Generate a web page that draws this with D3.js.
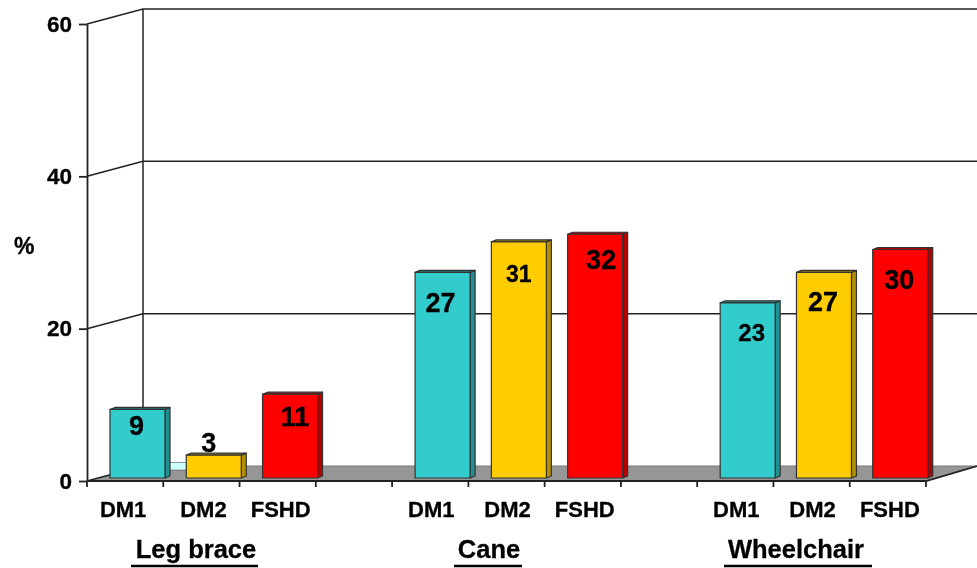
<!DOCTYPE html>
<html>
<head>
<meta charset="utf-8">
<style>
    html, body { margin: 0; padding: 0; background: #fff; }
    svg { display: block; filter: blur(0.5px); }
    text { font-family: "Liberation Sans", Arial, sans-serif; font-weight: bold; fill: #000; stroke: #000; stroke-width: 0.3px; }
</style>
</head>
<body>
<script src="https://cdn.jsdelivr.net/npm/d3@7"></script>
<script>

    // data
    var groups = ["Leg brace", "Cane", "Wheelchair"];
    var aids = ["DM1", "DM2", "FSHD"];
    var colors = ["#33cccc", "#ffcc00", "#ff0000"];
    var sides = ["#1f8f8f", "#b38f00", "#b30000"];
    var legBrace = [9, 3, 11];
    var cane = [27, 31, 32];
    var wheelchair = [23, 27, 30];
    var backStub = 1;
    var yTicks = [0, 20, 40, 60];

    // hand placed label tweaks, the original has them scattered about
    var labelSize = [27, 27, 27, 27, 23, 27, 24, 27, 27];
    var labelDx = [-1, -5, 5, -2, 0, 6, 4, -1, -1];
    var labelDy = [26, -3, 32, 40, 40, 35, 38, 39, 39];
    var nameDx = [-2, 2, 3, 1, 1, 2, 1, 1, 2];

    var width = 977, height = 568;
    var x0 = 87, x1 = 926;
    var depthX = 56, depthY = 15;

    var svg = d3.select("body").append("svg")
        .attr("width", width)
        .attr("height", height);

    // 11 slots: three bars, a gap, three bars, a gap, three bars
    var x = d3.scaleBand().domain(d3.range(11)).range([x0, x1]);
    var y = d3.scaleLinear().domain([0, 60]).range([481, 24]);

    var bars = [];
    [legBrace, cane, wheelchair].forEach(function (vals, g) {
        vals.forEach(function (v, i) {
            bars.push({ slot: g * 4 + i, group: g, aid: i, value: v });
        });
    });

    // floor
    svg.append("path")
        .attr("d", d3.line()([[x0, y(0)], [x0 + depthX, y(0) - depthY], [width, y(0) - depthY], [x1, y(0)]]) + "Z")
        .attr("fill", "#969696");
    svg.append("path")
        .attr("d", d3.line()([[x0 + depthX, y(0) - depthY], [width, y(0) - depthY]]))
        .attr("fill", "none").attr("stroke", "#777").attr("stroke-width", 1);

    // walls
    var grid = svg.append("g").attr("fill", "none").attr("stroke", "#222").attr("stroke-width", 1.5);
    yTicks.forEach(function (t) {
        if (t == 0) {
            grid.append("path").attr("d", d3.line()([[x0, y(t)], [x0 + depthX, y(t) - depthY]]));
            return;
        }
        grid.append("path").attr("d", d3.line()([[x0, y(t)], [x0 + depthX, y(t) - depthY], [width, y(t) - depthY]]));
    });
    grid.append("path").attr("d", d3.line()([[x0 + depthX, y(60) - depthY], [x0 + depthX, y(0) - depthY]]));

    // y axis
    var yAxis = svg.append("g")
        .attr("transform", "translate(" + x0 + ",0)")
        .call(d3.axisLeft(y).tickValues(yTicks).tickSize(8).tickSizeOuter(0).tickPadding(7));
    yAxis.selectAll("line, path").attr("stroke", "#222").attr("stroke-width", 1.8);
    yAxis.selectAll("text").attr("font-size", 22.5);
    yAxis.attr("font-family", null).attr("font-size", null);

    // front edge of the floor and the slot ticks
    svg.append("path")
        .attr("d", d3.line()([[x0, y(0)], [x1, y(0)], [width, y(0) - depthY]]))
        .attr("fill", "none").attr("stroke", "#222").attr("stroke-width", 1.8);
    svg.append("g").selectAll("line")
        .data(d3.range(12))
        .enter().append("line")
        .attr("x1", function (d) { return x0 + d * x.step(); })
        .attr("x2", function (d) { return x0 + d * x.step(); })
        .attr("y1", y(0))
        .attr("y2", y(0) + 6)
        .attr("stroke", "#222").attr("stroke-width", 1.8);

    // the little pale bar hiding behind the first two
    svg.append("rect")
        .attr("x", x(0) + 78)
        .attr("y", y(backStub) - 11)
        .attr("width", 25)
        .attr("height", y(0) - y(backStub))
        .attr("fill", "#ccffff")
        .attr("stroke", "#555").attr("stroke-width", 0.6);

    // bars
    var barW = 55, sideW = 5, topH = 2, lift = 3, inset = 23;
    var bar = svg.append("g").selectAll("g")
        .data(bars)
        .enter().append("g")
        .attr("stroke", "#333").attr("stroke-width", 1.2).attr("stroke-linejoin", "round");

    function barLeft(d) { return x(d.slot) + inset; }
    function barTop(d) { return y(d.value) - lift; }
    function barBase() { return y(0) - lift; }

    bar.append("path")
        .attr("fill", function (d) { return sides[d.aid]; })
        .attr("d", function (d) {
            var r = barLeft(d) + barW;
            return d3.line()([[r, barTop(d)], [r + sideW, barTop(d) - topH], [r + sideW, barBase() - topH], [r, barBase()]]) + "Z";
        });
    bar.append("path")
        .attr("fill", function (d) { return sides[d.aid]; })
        .attr("d", function (d) {
            var l = barLeft(d), r = l + barW;
            return d3.line()([[l, barTop(d)], [l + sideW, barTop(d) - topH], [r + sideW, barTop(d) - topH], [r, barTop(d)]]) + "Z";
        });
    bar.append("rect")
        .attr("x", barLeft)
        .attr("y", barTop)
        .attr("width", barW)
        .attr("height", function (d) { return barBase() - barTop(d); })
        .attr("fill", function (d) { return colors[d.aid]; });

    // value labels
    svg.append("g").selectAll("text")
        .data(bars)
        .enter().append("text")
        .attr("text-anchor", "middle")
        .attr("x", function (d, i) { return barLeft(d) + barW / 2 + labelDx[i]; })
        .attr("y", function (d, i) { return barTop(d) + labelDy[i]; })
        .attr("font-size", function (d, i) { return labelSize[i]; })
        .text(function (d) { return d.value; });

    // bar names under the axis
    svg.append("g").selectAll("text")
        .data(bars)
        .enter().append("text")
        .attr("text-anchor", "middle")
        .attr("x", function (d, i) { return x(d.slot) + x.bandwidth() / 2 + nameDx[i]; })
        .attr("y", 517)
        .attr("font-size", 22)
        .text(function (d) { return aids[d.aid]; });

    // group titles with the hand drawn underlines
    var groupX = [196, 489, 796];
    var lineX = [[131, 258], [454, 522], [724, 872]];
    var title = svg.append("g").selectAll("g")
        .data(groups)
        .enter().append("g");
    title.append("text")
        .attr("text-anchor", "middle")
        .attr("x", function (d, i) { return groupX[i]; })
        .attr("y", 558)
        .attr("font-size", 25.5)
        .text(function (d) { return d; });
    title.append("line")
        .attr("x1", function (d, i) { return lineX[i][0]; })
        .attr("x2", function (d, i) { return lineX[i][1]; })
        .attr("y1", 566)
        .attr("y2", 566)
        .attr("stroke", "#000")
        .attr("stroke-width", 2.6);

    svg.append("text")
        .attr("x", 14)
        .attr("y", 254)
        .attr("font-size", 23)
        .text("%");

</script>
</body>
</html>
